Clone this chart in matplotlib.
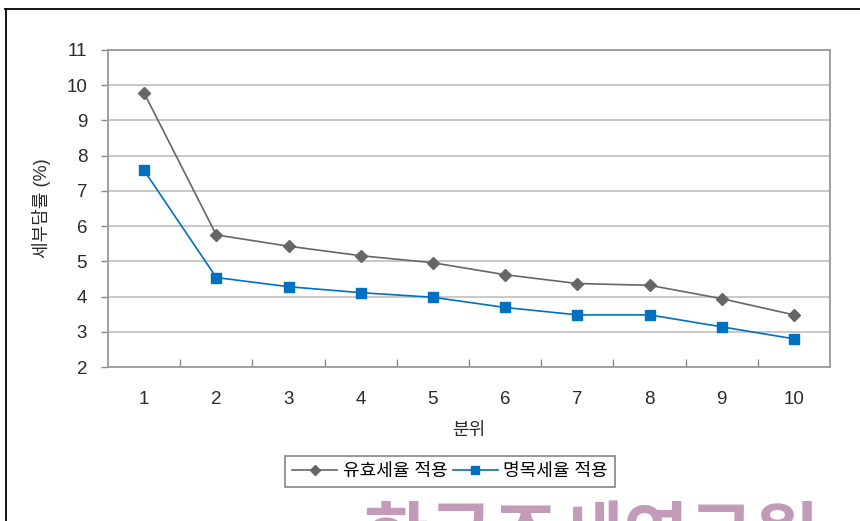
import matplotlib
matplotlib.use("Agg")
import matplotlib.pyplot as plt
from matplotlib.lines import Line2D
import numpy as np

plt.rcParams['font.family'] = ['Liberation Sans', 'Noto Sans CJK KR', 'DejaVu Sans']

deciles = ['1', '2', '3', '4', '5', '6', '7', '8', '9', '10']
effective_rate = [9.78, 5.75, 5.43, 5.16, 4.96, 4.62, 4.37, 4.32, 3.94, 3.48]
nominal_rate = [7.58, 4.54, 4.28, 4.11, 3.98, 3.69, 3.48, 3.48, 3.14, 2.80]
y_ticks = [2, 3, 4, 5, 6, 7, 8, 9, 10, 11]

W, H = 860, 521
fig = plt.figure(figsize=(W / 100, H / 100), dpi=100)

# outer frame lines (top and left)
fig.add_artist(Line2D([5 / W, 1], [1 - 9 / H, 1 - 9 / H], color='black', lw=1.3))
fig.add_artist(Line2D([6 / W, 6 / W], [0, 1 - 9 / H], color='black', lw=1.3))

ax = fig.add_axes([108 / W, 1 - 367 / H, (830 - 108) / W, (367 - 50) / H])
x = np.arange(len(deciles))

ax.plot(x, effective_rate, color='#666666', lw=1.2, marker='D', ms=6,
        markerfacecolor='#666666', markeredgecolor='#666666', label='유효세율 적용', zorder=3)
ax.plot(x, nominal_rate, color='#0070c0', lw=1.2, marker='s', ms=7.5,
        markerfacecolor='#0070c0', markeredgecolor='#0070c0', label='명목세율 적용', zorder=3)

ax.set_xlim(-0.5, len(deciles) - 0.5)
ax.set_ylim(2, 11)
ax.set_yticks(y_ticks)
ax.set_yticklabels([str(v) for v in y_ticks])
ax.set_xticks(x)
ax.set_xticklabels(deciles)
ax.tick_params(axis='x', length=0, pad=17, labelsize=13.5, labelcolor='#2a2a2a')
ax.set_xticks(np.arange(0.5, len(deciles) - 0.5, 1), minor=True)
ax.tick_params(axis='x', which='minor', direction='in', length=6, width=1, color='#888888')
ax.tick_params(axis='y', direction='out', length=5, width=1, color='#888888',
               labelsize=13.5, labelcolor='#2a2a2a', pad=10)

ax.grid(axis='y', color='#c8c8c8', lw=1.4)
ax.set_axisbelow(True)
for s in ax.spines.values():
    s.set_color('#999999')
    s.set_linewidth(1.3)

ax.set_ylabel('세부담률 (%)', fontsize=13, color='#2a2a2a', labelpad=11)
ax.set_xlabel('분위', fontsize=13, color='#2a2a2a', labelpad=10)

leg = ax.legend(loc='upper center', bbox_to_anchor=(450 / W, 1 - 456 / H),
                bbox_transform=fig.transFigure, ncol=2, frameon=True, fancybox=False,
                fontsize=13, handlelength=2.5, handletextpad=0.3, columnspacing=0.3,
                borderpad=0.38, borderaxespad=0, markerscale=0.85, edgecolor='#666666')
leg.get_frame().set_linewidth(1.2)

# institute watermark at the bottom edge
fig.text(591 / W, 1 - 509 / H, '한국조세연구원', fontsize=51, fontweight='bold',
         color='#c49ab9', ha='center', va='top')

fig.savefig('out.png', dpi=100)
